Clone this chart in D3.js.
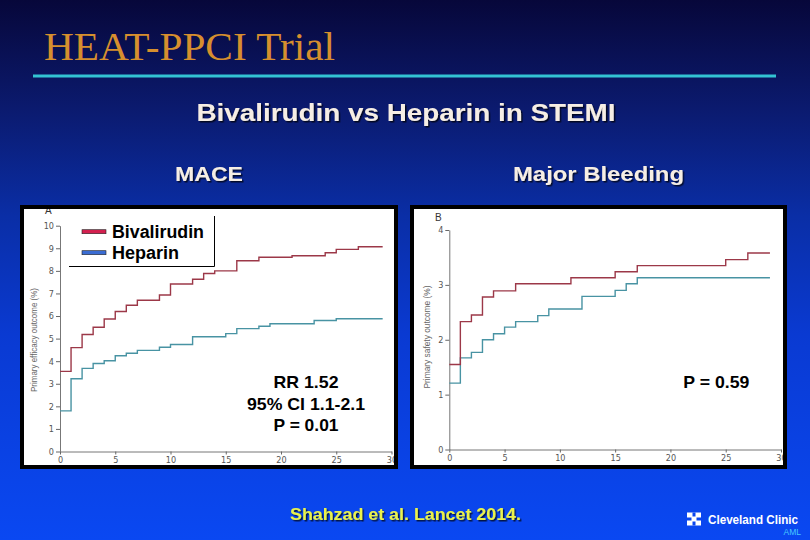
<!DOCTYPE html>
<html><head><meta charset="utf-8">
<script src="https://cdn.jsdelivr.net/npm/d3@7"></script>
<style>html,body{margin:0;padding:0;background:#0a2ea6;}svg{display:block;}</style>
</head><body>
<script>
// ---------- data ----------
const xTicks = [0,5,10,15,20,25,30];
const maceYTicks = [0,1,2,3,4,5,6,7,8,9,10];
const bleedYTicks = [0,1,2,3,4];

const bivMaceDays = [0,1,2,3,4,5,6,7,9,10,12,13,14,16,18,21,24,25,27];
const bivMaceVals = [3.55,4.6,5.18,5.5,5.87,6.2,6.48,6.7,6.93,7.42,7.63,7.88,8.0,8.45,8.6,8.67,8.8,8.95,9.07];
const hepMaceDays = [0,1,2,3,4,5,6,7,9,10,12,15,16,18,19,23,25];
const hepMaceVals = [1.8,3.22,3.68,3.9,4.02,4.24,4.35,4.48,4.62,4.74,5.08,5.22,5.44,5.55,5.66,5.8,5.88];
const maceEndDay = 29.2;

const bivBleedDays = [0,1,2,3,4,6,11,15,17,25,27];
const bivBleedVals = [1.55,2.33,2.45,2.78,2.89,3.02,3.13,3.24,3.35,3.46,3.58];
const hepBleedDays = [0,1,2,3,4,5,6,8,9,12,15,16,17];
const hepBleedVals = [1.21,1.67,1.77,2.0,2.11,2.23,2.33,2.44,2.56,2.79,2.9,3.02,3.13];
const bleedEndDay = 29;

const seriesNames = ["Bivalirudin","Heparin"];

// ---------- drawing ----------
const W = 810, H = 540;
const svg = d3.select("body").append("svg").attr("width", W).attr("height", H)
  .style("font-family", "Arial, 'Liberation Sans', sans-serif");
const defs = svg.append("defs");
const bg = defs.append("linearGradient").attr("id","bg").attr("x1",0).attr("y1",0).attr("x2",0).attr("y2",1);
[[0,"#07073a"],[0.2,"#0b1a6e"],[0.4,"#0a2ea6"],[0.62,"#0a3ad2"],[1,"#0a48f2"]].forEach(([o,c]) =>
  bg.append("stop").attr("offset",o).attr("stop-color",c));
const sh = defs.append("filter").attr("id","sh").attr("x","-10%").attr("y","-30%").attr("width","130%").attr("height","160%");
sh.append("feDropShadow").attr("dx",1.5).attr("dy",1.5).attr("stdDeviation",0.6).attr("flood-color","#000").attr("flood-opacity",0.7);

svg.append("rect").attr("width",W).attr("height",H).attr("fill","url(#bg)");

// title
svg.append("text").attr("x",44).attr("y",60).text("HEAT-PPCI Trial")
  .attr("font-family","'Liberation Serif','Times New Roman',serif").attr("font-size",40)
  .attr("fill","#d68f2e").attr("textLength",291).attr("lengthAdjust","spacingAndGlyphs");
svg.append("line").attr("x1",33).attr("x2",776).attr("y1",76).attr("y2",76)
  .attr("stroke","#33c3d3").attr("stroke-width",3);

function stext(x,y,txt,size,len,fill,weight){
  return svg.append("text").attr("x",x).attr("y",y).text(txt).attr("text-anchor","middle")
    .attr("font-size",size).attr("font-weight",weight||"bold").attr("fill",fill||"#f6eee4")
    .attr("textLength",len).attr("lengthAdjust","spacingAndGlyphs").attr("filter","url(#sh)");
}
stext(406,121,"Bivalirudin vs Heparin in STEMI",24.5,419);
stext(209,181,"MACE",21,68);
stext(598.5,181,"Major Bleeding",21,171);

// panels
function panel(ox, oy, ow, oh, id){
  svg.append("rect").attr("x",ox).attr("y",oy).attr("width",ow).attr("height",oh).attr("fill","#000");
  svg.append("rect").attr("x",ox+4).attr("y",oy+4).attr("width",ow-8).attr("height",oh-8).attr("fill","#fff");
  defs.append("clipPath").attr("id",id).append("rect").attr("x",ox+4).attr("y",oy+4).attr("width",ow-8).attr("height",oh-8);
  return svg.append("g").attr("clip-path",`url(#${id})`);
}

function chart(g, cfg){
  const x = d3.scaleLinear().domain([0,30]).range(cfg.xr);
  const y = d3.scaleLinear().domain(cfg.yd).range(cfg.yr);
  const xa = g.append("g").attr("transform",`translate(0,${cfg.yr[0]})`)
    .call(d3.axisBottom(x).tickValues(xTicks).tickFormat(d3.format("d")).tickSize(3).tickSizeOuter(0).tickPadding(2));
  const ya = g.append("g").attr("transform",`translate(${cfg.xr[0]},0)`)
    .call(d3.axisLeft(y).tickValues(cfg.yt).tickFormat(d3.format("d")).tickSize(4).tickSizeOuter(0).tickPadding(2));
  [xa,ya].forEach(a => {
    a.select(".domain").attr("stroke","#777").attr("stroke-width",1);
    a.selectAll(".tick line").attr("stroke","#666");
    a.selectAll(".tick text").attr("fill","#555").attr("font-size",9).attr("font-family","'DejaVu Sans Condensed','Liberation Sans',sans-serif");
  });
  g.append("text").attr("transform",`translate(${cfg.lx},${cfg.ly}) rotate(-90)`).attr("text-anchor","middle")
    .attr("font-size",9).attr("fill","#666").attr("textLength",cfg.ll).attr("lengthAdjust","spacingAndGlyphs")
    .text(cfg.label);
  g.append("text").attr("x",cfg.px).attr("y",cfg.py).attr("font-size",10).attr("fill","#333").text(cfg.letter);
  const line = d3.line().x(d=>x(d[0])).y(d=>y(d[1])).curve(d3.curveStepAfter);
  cfg.series.forEach(s => {
    const pts = s.days.map((d,i)=>[d, s.vals[i]]);
    pts.push([s.end, s.vals[s.vals.length-1]]);
    g.append("path").datum(pts).attr("d",line).attr("fill","none")
      .attr("stroke",s.color).attr("stroke-width",1.4);
  });
}

const gA = panel(20,205,378,264,"clipA");
chart(gA, {xr:[60,391.5], yd:[0,10], yr:[451.5,225.7], yt:maceYTicks,
  label:"Primary efficacy outcome (%)", lx:37, ly:340, ll:104, letter:"A", px:45, py:214,
  series:[
    {days:hepMaceDays, vals:hepMaceVals, end:maceEndDay, color:"#4893a3"},
    {days:bivMaceDays, vals:bivMaceVals, end:maceEndDay, color:"#9c3848"}
  ]});

const gB = panel(410,205,377,264,"clipB");
chart(gB, {xr:[449.3,781], yd:[0,4], yr:[449.5,230], yt:bleedYTicks,
  label:"Primary safety outcome (%)", lx:430, ly:337, ll:103, letter:"B", px:435, py:221,
  series:[
    {days:hepBleedDays, vals:hepBleedVals, end:bleedEndDay, color:"#4893a3"},
    {days:bivBleedDays, vals:bivBleedVals, end:bleedEndDay, color:"#9c3848"}
  ]});

// legend
const leg = svg.append("g");
leg.append("line").attr("x1",69).attr("x2",214.5).attr("y1",266.5).attr("y2",266.5).attr("stroke","#000");
leg.append("line").attr("x1",214.5).attr("x2",214.5).attr("y1",216).attr("y2",266.5).attr("stroke","#000");
const legColors = ["#d3204f","#3a6cd2"];
seriesNames.forEach((n,i) => {
  const yy = 231.7 + i*21;
  leg.append("rect").attr("x",82).attr("y",yy-2).attr("width",24).attr("height",4)
    .attr("fill",legColors[i]).attr("stroke","#222").attr("stroke-width",0.6);
  leg.append("text").attr("x",112).attr("y",yy+6.5).attr("font-size",18).attr("font-weight","bold")
    .attr("fill","#000").attr("textLength",i===0?92:67).attr("lengthAdjust","spacingAndGlyphs").text(n);
});

// annotations
function atext(x,y,t,len){
  svg.append("text").attr("x",x).attr("y",y).attr("text-anchor","middle").attr("font-size",17)
    .attr("font-weight","bold").attr("fill","#000").attr("textLength",len).attr("lengthAdjust","spacingAndGlyphs").text(t);
}
atext(306,388.3,"RR 1.52",65);
atext(306,410,"95% CI 1.1-2.1",118);
atext(306,431,"P = 0.01",65);
atext(716.3,387.7,"P = 0.59",66);

// citation
stext(405.5,520,"Shahzad et al. Lancet 2014.",16,231,"#eaf24c");

// logo
const lg = svg.append("g");
lg.append("rect").attr("x",687).attr("y",512.5).attr("width",14).attr("height",13).attr("fill","#fff");
lg.append("rect").attr("x",692.5).attr("y",512.5).attr("width",3).attr("height",13).attr("fill","#0a46ee");
lg.append("rect").attr("x",687).attr("y",517.5).attr("width",14).attr("height",3).attr("fill","#0a46ee");
lg.append("rect").attr("x",691.5).attr("y",516.5).attr("width",5).attr("height",5).attr("fill","#fff");
lg.append("text").attr("x",708).attr("y",524).attr("font-size",12).attr("font-weight","bold").attr("fill","#fff")
  .attr("textLength",90).attr("lengthAdjust","spacingAndGlyphs").text("Cleveland Clinic");
lg.append("text").attr("x",801).attr("y",535).attr("text-anchor","end").attr("font-size",8.5).attr("fill","#45c8ff").text("AML");
</script>
</body></html>
